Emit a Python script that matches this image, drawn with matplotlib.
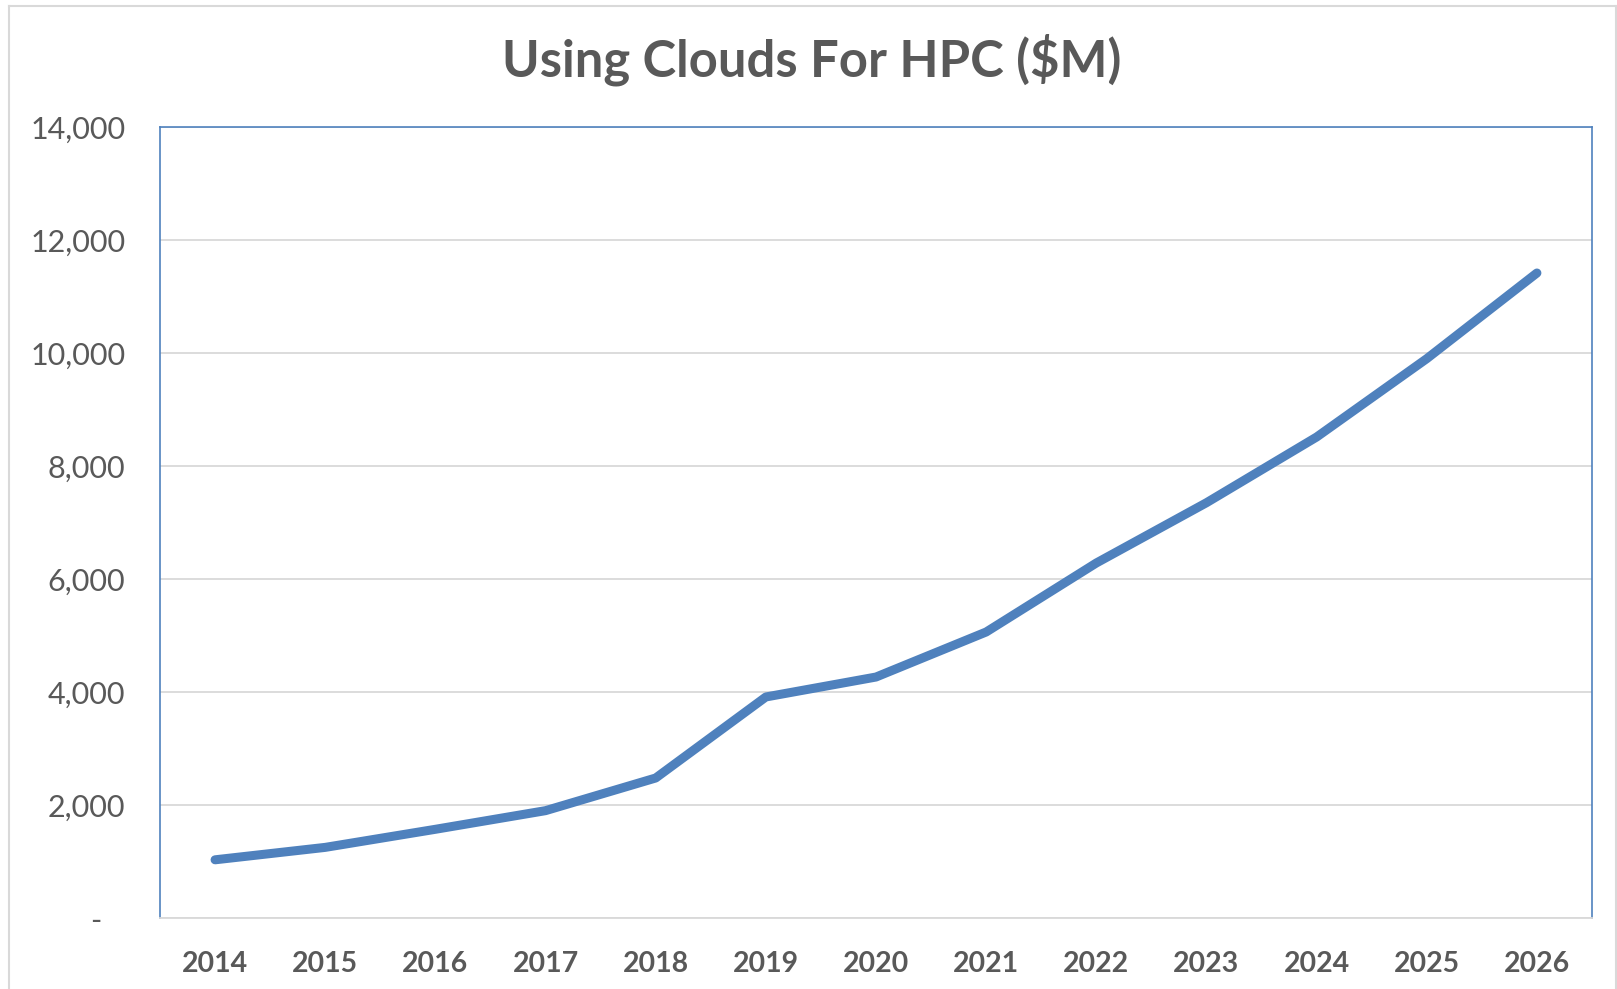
import matplotlib.pyplot as plt
from matplotlib.lines import Line2D
from matplotlib.ticker import FuncFormatter

years = ["2014", "2015", "2016", "2017", "2018", "2019", "2020",
         "2021", "2022", "2023", "2024", "2025", "2026"]
spend = [1030, 1250, 1570, 1900, 2478, 3912, 4265,
         5062, 6283, 7350, 8513, 9900, 11416]
y_ticks = [0, 2000, 4000, 6000, 8000, 10000, 12000, 14000]

blue = "#4F81BD"
grey_text = "#595959"
grid_grey = "#D9D9D9"

plt.rcParams["font.family"] = ["Lato", "DejaVu Sans"]

fig = plt.figure(figsize=(16.17, 9.89), dpi=100)
ax = fig.add_axes([160 / 1617, 71 / 989, 1432 / 1617, 791 / 989])

x = range(len(years))
ax.plot(x, spend, color=blue, lw=6.5, solid_capstyle="round", solid_joinstyle="round", zorder=3)

ax.set_xlim(-0.5, len(years) - 0.5)
ax.set_ylim(0, 14000)
ax.set_xticks(list(x))
ax.set_xticklabels(years, fontsize=20.5, fontweight="bold", color=grey_text)
ax.set_yticks(y_ticks)
# Excel accounting style: zero shown as a dash
ax.yaxis.set_major_formatter(FuncFormatter(lambda v, p: "-   " if v == 0 else f"{int(v):,}"))
ax.tick_params(axis="y", length=0, pad=25, labelsize=22, labelcolor=grey_text)
ax.tick_params(axis="x", length=0, pad=24)
ax.grid(axis="y", color=grid_grey, lw=1.3)
ax.set_axisbelow(True)

for side in ["left", "top", "right"]:
    ax.spines[side].set_color(blue)
    ax.spines[side].set_linewidth(1.2)
ax.spines["bottom"].set_color(grid_grey)
ax.spines["bottom"].set_linewidth(1.3)

fig.text(0.502, 0.94, "Using Clouds For HPC ($M)", ha="center", va="center",
         fontsize=36.5, fontweight="bold", color=grey_text)

# outer chart border
bx0, bx1, by1 = 9 / 1617, 1616 / 1617, 1 - 6 / 989
for xs, ys in [([bx0, bx0], [0, by1]), ([bx0, bx1], [by1, by1]), ([bx1, bx1], [by1, 0])]:
    fig.add_artist(Line2D(xs, ys, color=grid_grey, lw=1.5, transform=fig.transFigure))

fig.savefig("out.png", dpi=100)
